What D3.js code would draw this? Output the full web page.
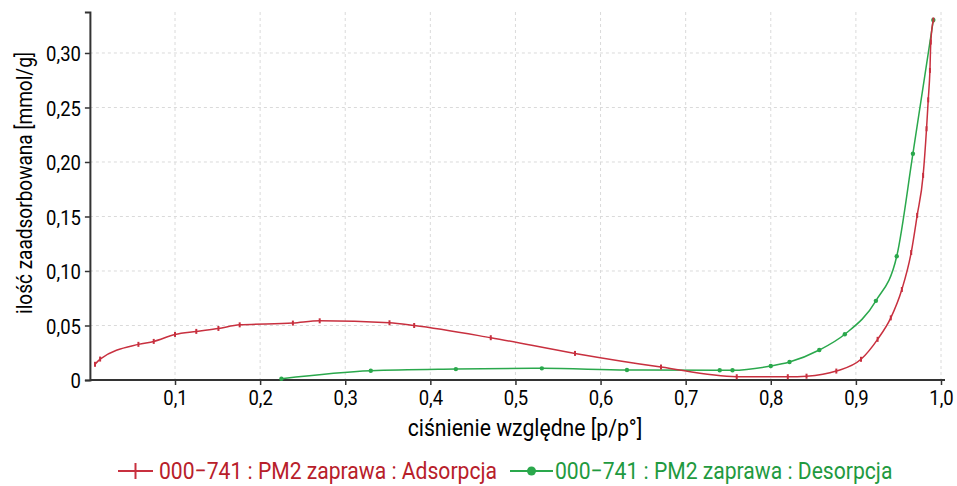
<!DOCTYPE html>
<html>
<head>
<meta charset="utf-8">
<script src="https://cdn.jsdelivr.net/npm/d3@7"></script>
<style>
  html, body { margin: 0; padding: 0; background: #fff; }
  svg { display: block; }
  text { font-family: Roboto, "Noto Sans", sans-serif; }
</style>
</head>
<body>
<svg id="chart" width="957" height="486"></svg>
<script>
// Relative pressure p/p° and adsorbed amount [mmol/g]
const adsP = [0.006, 0.012, 0.057, 0.075, 0.100, 0.125, 0.151, 0.176, 0.2385, 0.270, 0.352, 0.381,
              0.471, 0.570, 0.671, 0.760, 0.820, 0.842, 0.877, 0.906, 0.9255, 0.941, 0.954, 0.965,
              0.972, 0.979, 0.983, 0.985, 0.987, 0.988, 0.991];
const adsV = [0.0144, 0.0192, 0.0327, 0.0354, 0.0418, 0.0446, 0.0473, 0.0506, 0.0522, 0.0543, 0.0525, 0.0500,
              0.0388, 0.0244, 0.0119, 0.0030, 0.0030, 0.0035, 0.0082, 0.0190, 0.0373, 0.0570, 0.0830, 0.1170,
              0.1510, 0.1877, 0.2305, 0.2570, 0.2840, 0.3100, 0.3303];

const desP = [0.991, 0.967, 0.948, 0.9235, 0.887, 0.857, 0.822, 0.800, 0.755, 0.740, 0.631, 0.531, 0.430, 0.330, 0.225];
const desV = [0.3303, 0.2076, 0.1135, 0.0726, 0.0420, 0.0275, 0.0165, 0.0128, 0.0089, 0.0089, 0.0092, 0.0107, 0.0100, 0.0085, 0.0012];

const xTicks = [0.1, 0.2, 0.3, 0.4, 0.5, 0.6, 0.7, 0.8, 0.9, 1.0];
const yTicks = [0, 0.05, 0.10, 0.15, 0.20, 0.25, 0.30];

const seriesNames = ["000\u2212741 : PM2 zaprawa : Adsorpcja", "000\u2212741 : PM2 zaprawa : Desorpcja"];
const xLabel = "ciśnienie względne [p/p°]";
const yLabel = "ilość zaadsorbowana [mmol/g]";

const RED = "#c8303f", GREEN = "#2aa84c";
const RED_TXT = "#b8202a", GREEN_TXT = "#1f9a40";

const svg = d3.select("#chart");
const x = d3.scaleLinear().domain([0, 1]).range([89.9, 941]);
const y = d3.scaleLinear().domain([0, 0.3376]).range([380, 12]);

// squeeze text horizontally to imitate a condensed face
function condense(sel, k) {
  sel.each(function () {
    const w = this.getComputedTextLength();
    d3.select(this).attr("textLength", w * k).attr("lengthAdjust", "spacingAndGlyphs");
  });
}

// grid
const grid = svg.append("g");
grid.selectAll("line.v").data(xTicks).join("line")
  .attr("x1", d => x(d)).attr("x2", d => x(d))
  .attr("y1", y.range()[1]).attr("y2", y(0))
  .attr("stroke", "#dadada").attr("stroke-width", 1).attr("stroke-dasharray", "3,3");
grid.selectAll("line.h").data(yTicks.filter(d => d > 0)).join("line")
  .attr("x1", x(0)).attr("x2", x(1))
  .attr("y1", d => y(d)).attr("y2", d => y(d))
  .attr("stroke", "#dadada").attr("stroke-width", 1).attr("stroke-dasharray", "3,3");

const fmt = d => d === 0 ? "0" : d3.format(".2f")(d).replace(".", ",");
const fmtX = d => d3.format(".1f")(d).replace(".", ",");

// axes
const xAxis = svg.append("g").attr("transform", `translate(0,${y(0)})`)
  .call(d3.axisBottom(x).tickValues(xTicks).tickFormat(fmtX).tickSizeOuter(0).tickSize(5).tickPadding(5));
const yAxis = svg.append("g").attr("transform", `translate(${x(0)},0)`)
  .call(d3.axisLeft(y).tickValues(yTicks).tickFormat(fmt).tickSizeOuter(0).tickSize(5).tickPadding(4));
[xAxis, yAxis].forEach(a => {
  a.select(".domain").attr("stroke", "#333").attr("stroke-width", 2);
  a.selectAll(".tick line").attr("stroke", "#333").attr("stroke-width", 1.5);
  a.selectAll(".tick text").attr("font-size", 21).attr("fill", "#000")
    .attr("font-family", "Roboto, sans-serif").call(condense, 0.88);
});
xAxis.select(".domain").attr("d", `M${x(0)},0H${x(1) + 4}`);
yAxis.selectAll(".tick text").attr("dy", "0.36em");
xAxis.selectAll(".tick text").attr("dy", "0.72em");

// axis titles
svg.append("text").attr("x", 525).attr("y", 436)
  .attr("text-anchor", "middle").attr("font-size", 23).attr("fill", "#000")
  .text(xLabel).call(condense, 0.92);
svg.append("text").attr("transform", `translate(32,183) rotate(-90)`)
  .attr("text-anchor", "middle").attr("font-size", 22).attr("fill", "#000")
  .text(yLabel).call(condense, 0.865);

// series
const ads = adsP.map((p, i) => [p, adsV[i]]);
const des = desP.map((p, i) => [p, desV[i]]).sort((a, b) => a[0] - b[0]);
const line = d3.line().x(d => x(d[0])).y(d => y(d[1])).curve(d3.curveMonotoneX);

svg.append("path").datum(des).attr("d", line)
  .attr("fill", "none").attr("stroke", GREEN).attr("stroke-width", 1.5);
svg.append("path").datum(ads).attr("d", line)
  .attr("fill", "none").attr("stroke", RED).attr("stroke-width", 1.5);

svg.append("g").selectAll("circle").data(des).join("circle")
  .attr("cx", d => x(d[0])).attr("cy", d => y(d[1])).attr("r", 2.2).attr("fill", GREEN);
svg.append("g").selectAll("line").data(ads).join("line")
  .attr("x1", d => x(d[0])).attr("x2", d => x(d[0]))
  .attr("y1", d => y(d[1]) - 2.5).attr("y2", d => y(d[1]) + 2.5)
  .attr("stroke", RED).attr("stroke-width", 2);

// legend
const lg = svg.append("g");
lg.append("line").attr("x1", 118).attr("x2", 153).attr("y1", 471).attr("y2", 471)
  .attr("stroke", RED).attr("stroke-width", 2);
lg.append("line").attr("x1", 135.5).attr("x2", 135.5).attr("y1", 463).attr("y2", 479)
  .attr("stroke", RED).attr("stroke-width", 2);
lg.append("text").attr("x", 159).attr("y", 479).attr("font-size", 24).attr("fill", RED_TXT)
  .text(seriesNames[0]).call(condense, 0.88);
lg.append("line").attr("x1", 510).attr("x2", 553).attr("y1", 471).attr("y2", 471)
  .attr("stroke", GREEN).attr("stroke-width", 2);
lg.append("circle").attr("cx", 531.5).attr("cy", 471).attr("r", 4.5).attr("fill", GREEN);
lg.append("text").attr("x", 555).attr("y", 479).attr("font-size", 24).attr("fill", GREEN_TXT)
  .text(seriesNames[1]).call(condense, 0.88);
</script>
</body>
</html>
